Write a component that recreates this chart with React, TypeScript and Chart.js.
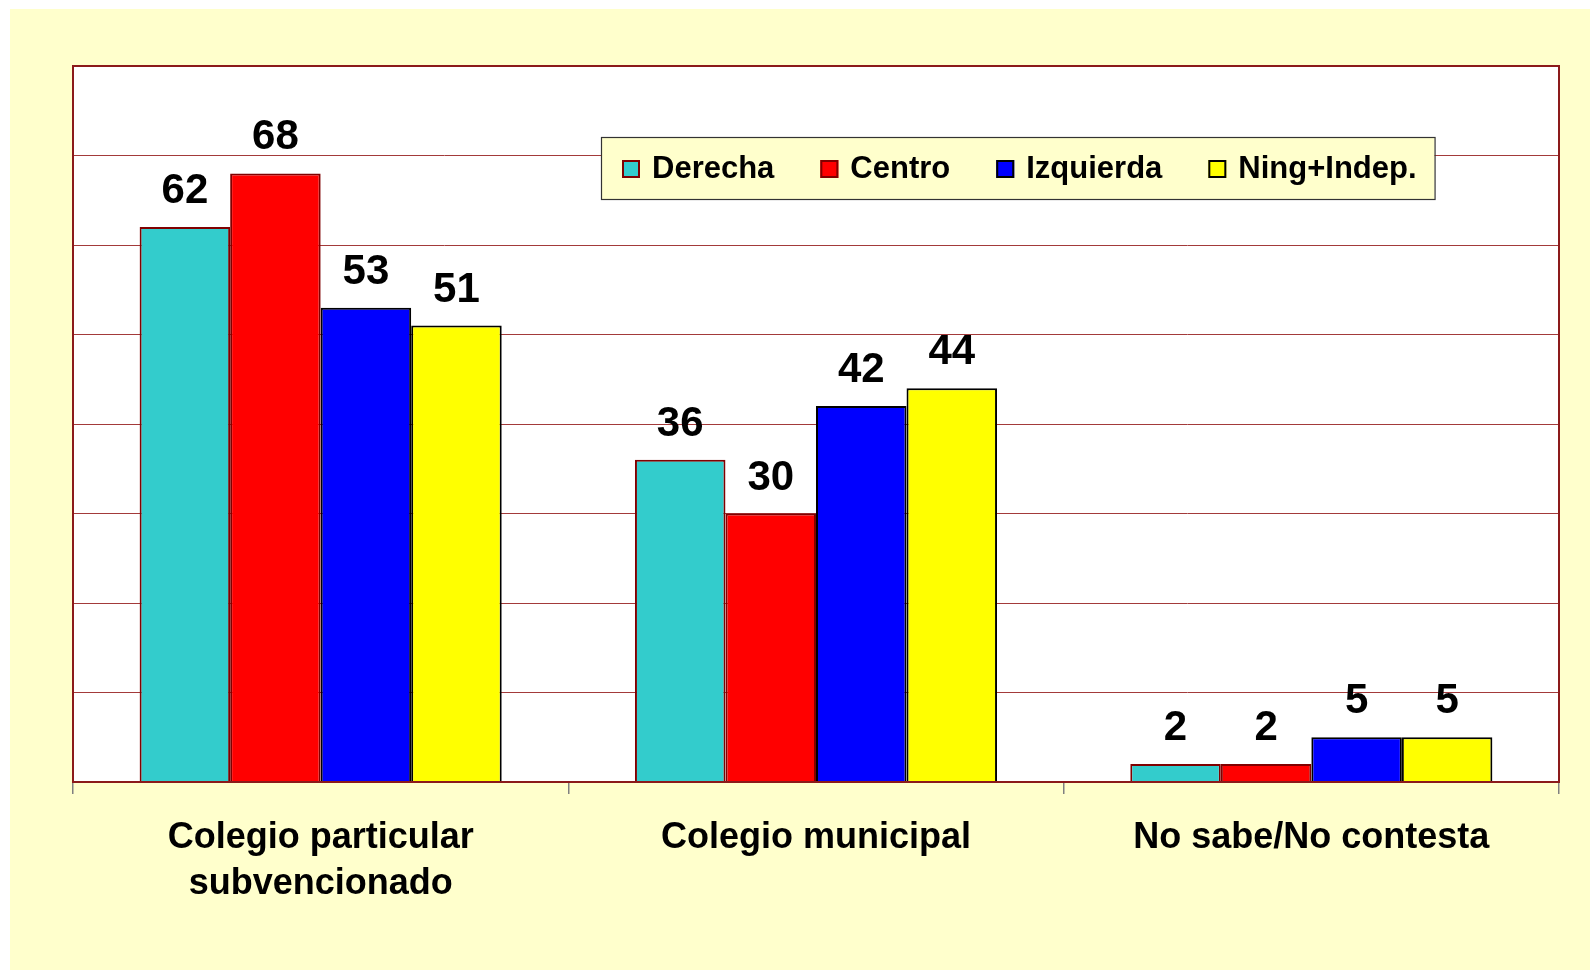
import React, { useEffect, useRef } from "react";
import { Chart, registerables } from "chart.js";

Chart.register(...registerables);

// ---- data ----
const categories: (string | string[])[] = [
  ["Colegio particular", "subvencionado"],
  "Colegio municipal",
  "No sabe/No contesta",
];
const seriesNames = ["Derecha", "Centro", "Izquierda", "Ning+Indep."];
const derecha = [62, 36, 2];
const centro = [68, 30, 2];
const izquierda = [53, 42, 5];
const ningIndep = [51, 44, 5];
const yMin = 0;
const yMax = 80;
const yStep = 10;

const FONT = '"Liberation Sans", Arial, Helvetica, sans-serif';
const fills = ["#33CCCC", "#FF0000", "#0000FF", "#FFFF00"];
const borders = ["#800000", "#800000", "#000000", "#000000"];

const W = 1590;
const H = 970;

const bgPlugin = {
  id: "bgPlugin",
  beforeDraw(chart: any) {
    const { ctx, chartArea: ca } = chart;
    ctx.save();
    ctx.fillStyle = "#FFFFFF";
    ctx.fillRect(0, 0, W, H);
    ctx.fillStyle = "#FFFFCC";
    ctx.fillRect(10, 9, W - 10, H - 9);
    ctx.fillStyle = "#FFFFFF";
    ctx.fillRect(ca.left, ca.top, ca.right - ca.left, ca.bottom - ca.top);
    ctx.restore();
  },
};

const overlayPlugin = {
  id: "overlayPlugin",
  afterDraw(chart: any) {
    const { ctx, chartArea: ca } = chart;
    ctx.save();
    // plot border
    ctx.strokeStyle = "#8B1A1A";
    ctx.lineWidth = 2;
    ctx.strokeRect(ca.left, ca.top, ca.right - ca.left, ca.bottom - ca.top);

    // value labels
    ctx.fillStyle = "#000000";
    ctx.font = `bold 42px ${FONT}`;
    ctx.textAlign = "center";
    ctx.textBaseline = "alphabetic";
    chart.data.datasets.forEach((ds: any, di: number) => {
      const meta = chart.getDatasetMeta(di);
      meta.data.forEach((el: any, i: number) => {
        ctx.fillText(String(ds.data[i]), el.x, el.y - 24);
      });
    });

    // legend box
    ctx.font = `bold 31px ${FONT}`;
    const padL = 21, padR = 18, sw = 18, gap = 12, spacing = 46;
    const widths = chart.data.datasets.map((ds: any) => ctx.measureText(ds.label).width);
    let boxW = padL + padR;
    widths.forEach((w: number, i: number) => {
      boxW += sw + gap + w + (i < widths.length - 1 ? spacing : 0);
    });
    const boxL = ca.left + 528;
    const boxT = ca.top + 71;
    const boxH = 62;
    ctx.fillStyle = "#FFFFCC";
    ctx.fillRect(boxL, boxT, boxW, boxH);
    ctx.strokeStyle = "#333333";
    ctx.lineWidth = 1.2;
    ctx.strokeRect(boxL + 0.5, boxT + 0.5, boxW, boxH);
    let x = boxL + padL;
    chart.data.datasets.forEach((ds: any, i: number) => {
      ctx.fillStyle = ds.backgroundColor;
      ctx.fillRect(x, boxT + 23, sw, sw);
      ctx.strokeStyle = ds.borderColor;
      ctx.lineWidth = 2;
      ctx.strokeRect(x + 1, boxT + 24, sw - 2, sw - 2);
      ctx.fillStyle = "#000000";
      ctx.textAlign = "left";
      ctx.fillText(ds.label, x + sw + gap, boxT + 41);
      x += sw + gap + widths[i] + spacing;
    });
    ctx.restore();
  },
};

export default function App() {
  const ref = useRef<HTMLCanvasElement>(null);
  useEffect(() => {
    if (!ref.current) return;
    const values = [derecha, centro, izquierda, ningIndep];
    const chart = new Chart(ref.current, {
      type: "bar",
      data: {
        labels: categories,
        datasets: seriesNames.map((name, i) => ({
          label: name,
          data: values[i],
          backgroundColor: fills[i],
          borderColor: borders[i],
          borderWidth: 2,
          barPercentage: 1,
          categoryPercentage: 0.731,
        })),
      },
      options: {
        responsive: false,
        animation: false,
        devicePixelRatio: 1,
        layout: { padding: { left: 73, top: 66, right: 31, bottom: 0 } },
        plugins: {
          legend: { display: false },
          tooltip: { enabled: false },
          title: { display: false },
        },
        scales: {
          x: {
            offset: true,
            border: { display: false },
            grid: {
              display: true,
              drawOnChartArea: false,
              drawTicks: true,
              tickLength: 12,
              color: "#808080",
              lineWidth: 1.5,
              offset: true,
            },
            ticks: {
              color: "#000000",
              font: { family: FONT, size: 36, weight: "bold", lineHeight: 46 / 36 },
              padding: 21,
              maxRotation: 0,
              minRotation: 0,
              autoSkip: false,
            },
            afterFit: (scale: any) => {
              scale.height = H - 782;
            },
          },
          y: {
            min: yMin,
            max: yMax,
            border: { display: false },
            grid: {
              color: "#A33A3A",
              lineWidth: 1,
              drawTicks: false,
            },
            ticks: { display: false, stepSize: yStep },
            afterFit: (scale: any) => {
              scale.width = 0;
            },
          },
        },
      },
      plugins: [bgPlugin, overlayPlugin],
    } as any);
    return () => chart.destroy();
  }, []);
  return (
    <div style={{ position: "absolute", left: 0, top: 0, width: W, height: H }}>
      <canvas ref={ref} width={W} height={H} style={{ display: "block", width: W, height: H }} />
    </div>
  );
}
